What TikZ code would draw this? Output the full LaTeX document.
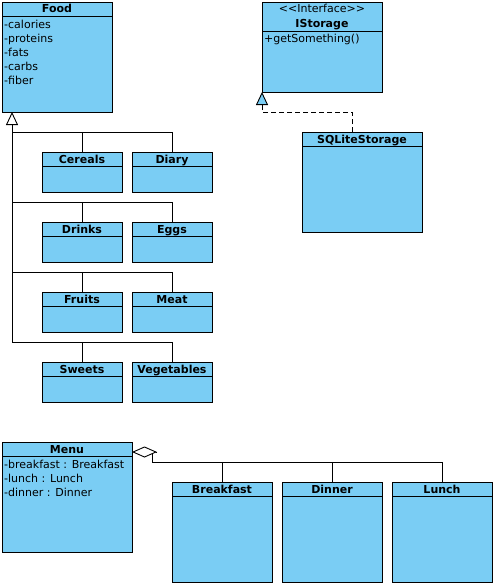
\documentclass[tikz,border=0pt]{standalone}
\usepackage{fontspec}
\setmainfont{DejaVu Sans}
\usetikzlibrary{arrows.meta, calc, positioning}
\definecolor{vpblue}{HTML}{7ACDF4}

\tikzset{
	umlclass/.style = {draw, fill = vpblue, line width = 0.9pt, anchor = north west, inner sep = 0pt, outer sep = 0pt},
	header/.style = {path picture = {\draw[line width = 0.9pt] ([yshift = -#1]path picture bounding box.north west) -- ([yshift = -#1]path picture bounding box.north east);}},
	classname/.style = {anchor = base, inner sep = 0pt, font = \fontsize{11pt}{14pt}\selectfont\bfseries},
	attr/.style = {anchor = base west, inner sep = 0pt, font = \fontsize{11pt}{14pt}\selectfont},
	umlline/.style = {line width = 0.9pt},
	realline/.style = {line width = 0.9pt, dash pattern = on 5pt off 3pt}
}

\begin{document}
\begin{tikzpicture}[x = 1pt, y = -1pt]
	\fill[white] (0,0) rectangle (496,586);
	\useasboundingbox (0,0) rectangle (496,586);
	
	\node[umlclass, header = 14pt, minimum width = 110pt, minimum height = 110pt] (food) at (2,2) {};
	\node[classname] (foodname) at ([yshift = -11pt]food.north) {Food};
	\foreach \attrtext [count = \i] in {calories, proteins, fats, carbs, fiber}
		\node[attr] (food-\i) at ([xshift = 2pt, yshift = {-12.7pt-14pt*\i}]food.north west) {-\attrtext};
	
	\node[umlclass, header = 14pt, minimum width = 80pt, minimum height = 40pt] (cereals) at (42,152) {};
	\node[umlclass, header = 14pt, minimum width = 80pt, minimum height = 40pt] (diary) at (132,152) {};
	\node[umlclass, header = 14pt, minimum width = 80pt, minimum height = 40pt] (drinks) at (42,222) {};
	\node[umlclass, header = 14pt, minimum width = 80pt, minimum height = 40pt] (eggs) at (132,222) {};
	\node[umlclass, header = 14pt, minimum width = 80pt, minimum height = 40pt] (fruits) at (42,292) {};
	\node[umlclass, header = 14pt, minimum width = 80pt, minimum height = 40pt] (meat) at (132,292) {};
	\node[umlclass, header = 14pt, minimum width = 80pt, minimum height = 40pt] (sweets) at (42,362) {};
	\node[umlclass, header = 14pt, minimum width = 80pt, minimum height = 40pt] (vegetables) at (132,362) {};
	
	\node[classname] (cerealsname) at ([yshift = -11pt]cereals.north) {Cereals};
	\node[classname] (diaryname) at ([yshift = -11pt]diary.north) {Diary};
	\node[classname] (drinksname) at ([yshift = -11pt]drinks.north) {Drinks};
	\node[classname] (eggsname) at ([yshift = -11pt]eggs.north) {Eggs};
	\node[classname] (fruitsname) at ([yshift = -11pt]fruits.north) {Fruits};
	\node[classname] (meatname) at ([yshift = -11pt]meat.north) {Meat};
	\node[classname] (sweetsname) at ([yshift = -11pt]sweets.north) {Sweets};
	\node[classname] (vegetablesname) at ([yshift = -11pt]vegetables.north) {Vegetables};
	
	% generalization tree
	\coordinate (foodtip) at ([xshift = 10pt]food.south west);
	\draw[umlline] (diary.north) -- ++(0,-20) coordinate (branch1) -- (branch1 -| foodtip);
	\draw[umlline] (cereals.north) -- ++(0,-20);
	\draw[umlline] (eggs.north) -- ++(0,-20) coordinate (branch2) -- (branch2 -| foodtip);
	\draw[umlline] (drinks.north) -- ++(0,-20);
	\draw[umlline] (meat.north) -- ++(0,-20) coordinate (branch3) -- (branch3 -| foodtip);
	\draw[umlline] (fruits.north) -- ++(0,-20);
	\draw[umlline, -{Triangle[open, length = 13pt, width = 12pt]}] (vegetables.north) -- ++(0,-20) -| (foodtip);
	\draw[umlline] (sweets.north) -- ++(0,-20);
	
	
	
	\node[umlclass, header = 29pt, minimum width = 120pt, minimum height = 90pt] (istorage) at (262,2) {};
	\node[attr, anchor = base] (stereotype) at ([yshift = -10.7pt]istorage.north) {<\kern0pt<Interface>\kern0pt>};
	\node[classname] (istoragename) at ([yshift = -25.3pt]istorage.north) {IStorage};
	\node[attr] (getsomething) at ([xshift = 2pt, yshift = -40.7pt]istorage.north west) {+getSomething()};
	
	\node[umlclass, header = 14pt, minimum width = 120pt, minimum height = 100pt] (sqlite) at (302,132) {};
	\node[classname] (sqlitename) at ([yshift = -11pt]sqlite.north) {SQLiteStorage};
	
	\draw[realline, -{Triangle[length = 13pt, width = 12pt, fill = vpblue]}]
	([xshift = -10pt]sqlite.north) -- ++(0,-20) -| (istorage.south west);
	
	
	
	\node[umlclass, header = 14pt, minimum width = 130pt, minimum height = 110pt] (menu) at (2,442) {};
	\node[classname] (menuname) at ([yshift = -11pt]menu.north) {Menu};
	\foreach \attrtext [count = \i] in {breakfast : Breakfast, lunch : Lunch, dinner : Dinner}
		\node[attr] (menu-\i) at ([xshift = 2pt, yshift = {-12.5pt-14pt*\i}]menu.north west) {-\attrtext};
	
	\node[umlclass, header = 14pt, minimum width = 100pt, minimum height = 100pt] (breakfast) at (172,482) {};
	\node[umlclass, header = 14pt, minimum width = 100pt, minimum height = 100pt] (dinner) at (282,482) {};
	\node[umlclass, header = 14pt, minimum width = 100pt, minimum height = 100pt] (lunch) at (392,482) {};
	
	\node[classname] (breakfastname) at ([yshift = -11pt]breakfast.north) {Breakfast};
	\node[classname] (dinnername) at ([yshift = -11pt]dinner.north) {Dinner};
	\node[classname] (lunchname) at ([yshift = -11pt]lunch.north) {Lunch};
	
	% aggregation
	\coordinate (menuagg) at ([yshift = -10pt]menu.north east);
	\draw[umlline, -{Diamond[open, length = 25pt, width = 11pt]}] ([xshift = 25pt]menuagg) -- (menuagg);
	\draw[umlline] (lunch.north) -- ++(0,-20) -| ([xshift = 20pt, yshift = -2pt]menuagg);
	\draw[umlline] (dinner.north) -- ++(0,-20);
	\draw[umlline] (breakfast.north) -- ++(0,-20);
	
\end{tikzpicture}
\end{document}
